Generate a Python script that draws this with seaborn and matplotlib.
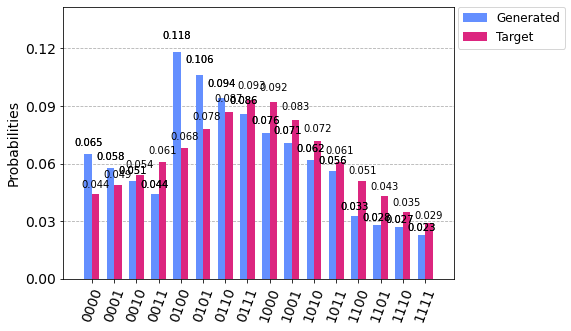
import matplotlib as mpl
mpl.use('Agg')
import matplotlib.pyplot as plt
import pandas as pd
import seaborn as sns

states = ['0000', '0001', '0010', '0011', '0100', '0101', '0110', '0111',
          '1000', '1001', '1010', '1011', '1100', '1101', '1110', '1111']
generated = [0.065, 0.058, 0.051, 0.044, 0.118, 0.106, 0.094, 0.086,
             0.076, 0.071, 0.062, 0.056, 0.033, 0.028, 0.027, 0.023]
target = [0.044, 0.049, 0.054, 0.061, 0.068, 0.078, 0.087, 0.093,
          0.092, 0.083, 0.072, 0.061, 0.051, 0.043, 0.035, 0.029]
series = ['Generated', 'Target']
colors = ['#648fff', '#dc267f']
yticks = [0.00, 0.03, 0.06, 0.09, 0.12]

df = pd.DataFrame({
    'state': states * 2,
    'prob': generated + target,
    'series': [series[0]] * len(states) + [series[1]] * len(states),
})

fig = plt.figure(figsize=(571 / 72, 331 / 72), dpi=72)
ax = fig.add_axes([63 / 571, 52 / 331, 391 / 571, 272 / 331])

sns.barplot(data=df, x='state', y='prob', hue='series', palette=colors,
            width=2 / 3, saturation=1, ax=ax, zorder=2)

#labels above bars (first series gets drawn twice, like the original)
conts = list(ax.containers)
for cont in [conts[0]] + conts:
    for rec in cont:
        h = rec.get_height()
        if h >= 1e-3:
            ax.text(rec.get_x() + rec.get_width() / 2., 1.05 * h, '%.3f' % h,
                    ha='center', va='bottom', zorder=3, fontsize=10)

# 5% margin around the bars, as matplotlib would do
ax.set_xlim(-1.3, len(states) - 1 + 1.3)
ax.set_ylim(0, 1.2 * max(generated + target))
ax.set_yticks(yticks)
ax.set_yticklabels(['%.2f' % v for v in yticks], fontsize=14)
ax.set_xticks(range(len(states)))
ax.set_xticklabels(states, fontsize=14, rotation=70)
ax.set_xlabel('')
ax.set_ylabel('Probabilities', fontsize=14)
ax.grid(which='major', axis='y', zorder=0, linestyle='--')
ax.set_axisbelow(True)

ax.legend(loc='upper left', bbox_to_anchor=(1.01, 1.0), ncol=1,
          borderaxespad=0, frameon=True, fontsize=12)

fig.savefig('out.png', dpi=72)
